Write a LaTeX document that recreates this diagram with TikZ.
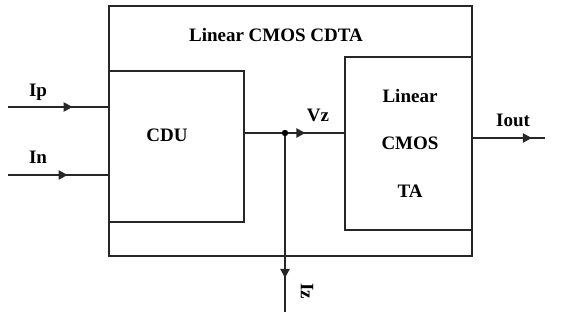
\documentclass[tikz,border=0pt]{standalone}
\usepackage{fontspec}
\setmainfont{Liberation Serif}
\usetikzlibrary{arrows.meta,decorations.markings}
\begin{document}
\begin{tikzpicture}[x=1pt,y=-1pt,
  blk/.style={draw, line width=2.1pt, draw=black!85, minimum width=#1},
  lbl/.style={font=\fontsize{19}{21}\selectfont\bfseries, inner sep=0pt, anchor=base},
  wire/.style={line width=2.1pt, draw=black!85},
  arrowat/.style={postaction={decorate}, decoration={markings,
     mark=at position #1 with {\arrow{Triangle[length=9pt,width=9pt]}}}}
]
\useasboundingbox (0,0) rectangle (572,320);
\node[blk=363pt, minimum height=250pt] (outer) at (290.5,131) {};
\node[blk=135pt, minimum height=151pt] (cdu) at (176.5,146.5) {};
\node[blk=127pt, minimum height=173pt] (ta) at (408.5,143.5) {};
\node[lbl] (title) at (276,42) {Linear CMOS CDTA};
\node[lbl] (cdutxt) at (167,142) {CDU};
\node[lbl] (ta1) at (410,103) {Linear};
\node[lbl] (ta2) at (410,150) {CMOS};
\node[lbl] (ta3) at (410,197) {TA};
\node[lbl] (ip) at (38,97) {Ip};
\node[lbl] (in) at (38,164) {In};
\node[lbl] (vz) at (318,122) {Vz};
\node[lbl] (iout) at (513,127) {Iout};
\node[lbl, anchor=center, rotate=-90] (iz) at (307,291) {Iz};
\coordinate (ipS) at (8,107);
\coordinate (ipE) at (109,107);
\coordinate (inS) at (8,175);
\coordinate (inE) at (109,175);
\coordinate (vzS) at (244,133);
\coordinate (dot) at (285,133);
\coordinate (vzE) at (345,133);
\coordinate (ioS) at (472,138);
\coordinate (ioE) at (545,138);
\coordinate (izE) at (285,312);
\draw[wire, arrowat=0.64] (ipS) -- (ipE);
\draw[wire, arrowat=0.59] (inS) -- (inE);
\draw[wire] (vzS) -- (dot);
\draw[wire, arrowat=0.34] (dot) -- (vzE);
\draw[wire, arrowat=0.82] (ioS) -- (ioE);
\draw[wire, arrowat=0.81] (dot) -- (izE);
\fill[black] (dot) circle (3.2pt);
\end{tikzpicture}
\end{document}
